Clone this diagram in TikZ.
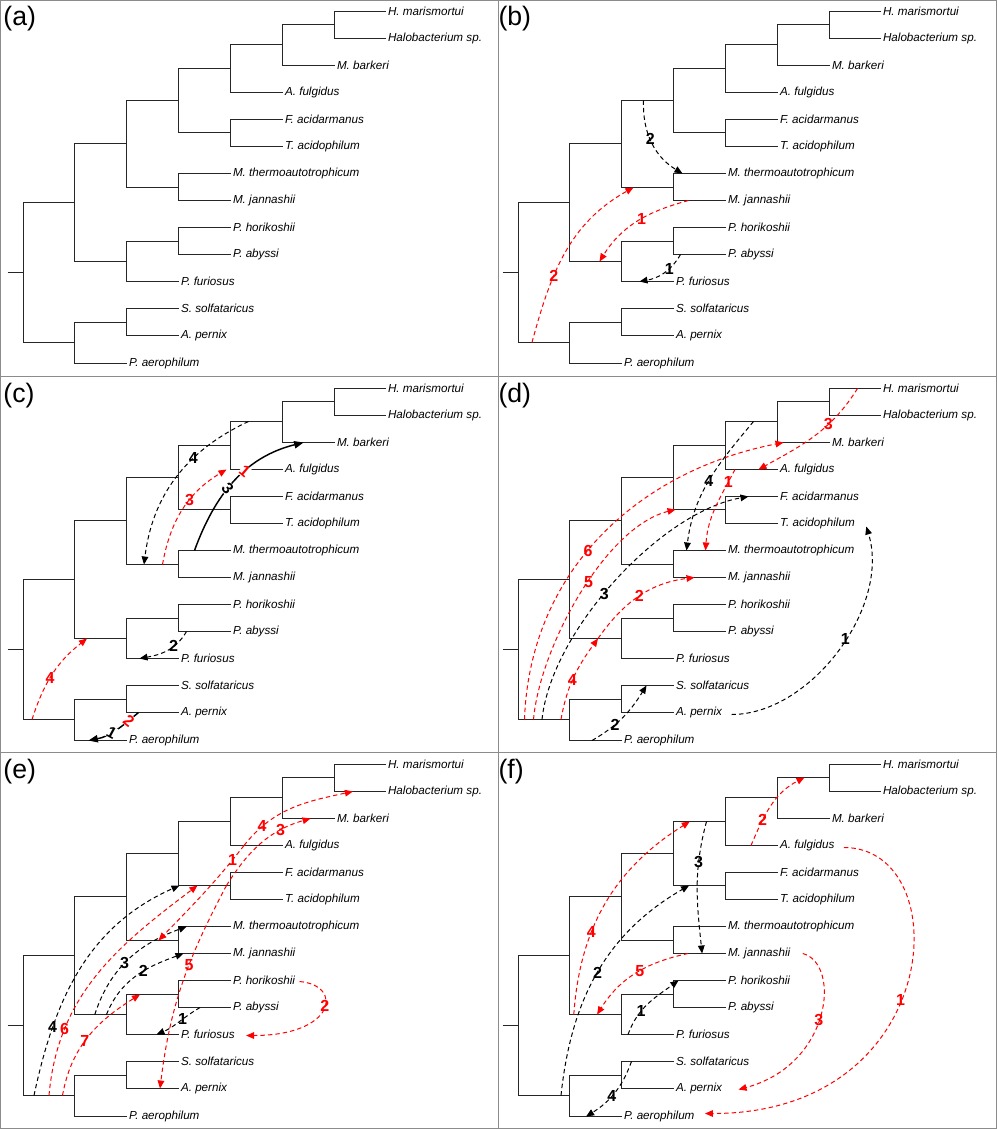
\documentclass[tikz,border=0pt]{standalone}
\usepackage{fontspec}
\setmainfont{Liberation Sans}
\usetikzlibrary{arrows.meta,calc}

\definecolor{hgtred}{RGB}{255,0,0}
\tikzset{every picture/.style={line width=0.75pt}}
\tikzset{
  frame/.style={draw=black!45,line width=0.75pt},
  branch/.style={draw=black!85,line width=0.75pt},
  taxon/.style={anchor=west,inner sep=1.5pt,font=\fontsize{8.75}{10}\selectfont\itshape},
  tag/.style={anchor=base west,inner sep=0pt,font=\fontsize{20}{24}\selectfont},
  hgt/.style={dash pattern=on 3.3pt off 2.3pt,line width=0.75pt,-{Triangle[length=6pt,width=5pt]}},
  redhgt/.style={hgt,draw=hgtred},
  blackhgt/.style={hgt,draw=black},
  shared/.style={draw=black,line width=1.1pt,-{Triangle[length=7pt,width=5.5pt]}},
  num/.style={inner sep=0pt,font=\fontsize{12}{14}\selectfont\bfseries},
  rednum/.style={num,text=hgtred},
  onshared/.style={sloped,fill=white,inner sep=0.3pt},
}

% one cladogram: #1 name prefix, #2/#3 offset of the panel
\newcommand{\cladogram}[3]{%
\begin{scope}[shift={(#2,#3)}]
  \node[tag] (#1-tag) at (3,25) {(#1)};
  \coordinate (#1-s) at (7.5,272.5);
  \coordinate (#1-r) at (23.5,272.5);
  \coordinate (#1-n1) at (74.5,202.5);
  \coordinate (#1-n4) at (74.5,342.5);
  \coordinate (#1-n2) at (126.5,143.5);
  \coordinate (#1-n3) at (126.5,261.5);
  \coordinate (#1-n5) at (126.5,322.5);
  \coordinate (#1-n6) at (178.5,100.5);
  \coordinate (#1-n7) at (178.5,187.5);
  \coordinate (#1-n8) at (178.5,241.5);
  \coordinate (#1-n9) at (230.5,68.5);
  \coordinate (#1-n10) at (230.5,132.5);
  \coordinate (#1-n11) at (282.5,44.5);
  \coordinate (#1-n12) at (334.5,24.5);
  \foreach \i/\xx/\yy/\nm in {0/385.5/11.5/H. marismortui,1/385.5/38.5/Halobacterium sp.,
      2/334.5/65.5/M. barkeri,3/282.5/92.5/A. fulgidus,4/282.5/119.5/F. acidarmanus,
      5/282.5/146.5/T. acidophilum,6/230.5/173.5/M. thermoautotrophicum,
      7/230.5/200.5/M. jannashii,8/230.5/227.5/P. horikoshii,9/230.5/254.5/P. abyssi,
      10/178.5/281.5/P. furiosus,11/178.5/308.5/S. solfataricus,
      12/178.5/335.5/A. pernix,13/126.5/363.5/P. aerophilum}{
    \coordinate (#1-t\i) at (\xx,\yy);
    \node[taxon] (#1-l\i) at (#1-t\i) {\nm};
  }
  \foreach \p/\c in {r/n1,r/n4,n1/n2,n1/n3,n2/n6,n2/n7,n6/n9,n6/n10,n9/n11,n9/t3,
      n11/n12,n11/t2,n12/t0,n12/t1,n10/t4,n10/t5,n7/t6,n7/t7,n3/n8,n3/t10,
      n8/t8,n8/t9,n4/n5,n4/t13,n5/t11,n5/t12}
    \draw[branch] (#1-\p) |- (#1-\c);
  \draw[branch] (#1-s) -- (#1-r);
\end{scope}}

\begin{document}
\begin{tikzpicture}[x=0.75pt,y=0.75pt,yscale=-1,xscale=1]
\useasboundingbox (0,0) rectangle (997,1129);

%Panels
\draw[frame] (0.5,0.5) rectangle (996.5,1128.5);
\draw[frame] (498,0) -- (498,1129);
\draw[frame] (0,376.5) -- (997,376.5);
\draw[frame] (0,752.5) -- (997,752.5);

\cladogram{a}{0}{0}
\cladogram{b}{495}{0}
\cladogram{c}{0}{377}
\cladogram{d}{495}{377}
\cladogram{e}{0}{753}
\cladogram{f}{495}{753}

%Transfers (b)
\draw[blackhgt] ($(b-n6)+(-30,0)$) to[out=92,in=211] node[num,pos=.45] (b-k2) {2} ($(b-t6)+(-43,0)$);
\draw[redhgt] ($(b-t7)+(-37,0)$) to[out=165,in=302] node[rednum,pos=.45] (b-q1) {1} ($(b-n3)+(-22,0)$);
\draw[blackhgt] ($(b-t9)+(-45,0)$) to[out=120,in=350] node[num,pos=.35] (b-k1) {1} ($(b-t10)+(-34,0)$);
\draw[redhgt] ($(b-n4)+(-37.5,0)$) to[out=285,in=151] node[rednum,pos=.35] (b-q2) {2} ($(b-n7)+(-40,0)$);

%Transfers (c)
\draw[blackhgt] ($(c-n11)+(-34,0)$) to[out=155,in=277] node[num,pos=.35] (c-k4) {4} ($(c-n7)+(-34.5,0)$);
\draw[redhgt] ($(c-n7)+(-16,0)$) to[out=280,in=149] node[rednum,pos=.6] (c-q3) {3} ($(c-t3)+(-56,0)$);
\draw[shared] ($(c-t6)+(-36,0)$) to[out=290,in=166] node[num,onshared,pos=.43] (c-k3) {3} node[rednum,onshared,pos=.59] (c-q1) {1} ($(c-t2)+(-31,0)$);
\draw[blackhgt] ($(c-t9)+(-44,0)$) to[out=120,in=350] node[num,pos=.35] (c-k2) {2} ($(c-t10)+(-39,0)$);
\draw[redhgt] ($(c-n4)+(-42.5,0)$) to[out=288,in=142] node[rednum,pos=.45] (c-q4) {4} ($(c-n3)+(-39.5,0)$);
\draw[shared] ($(c-t12)+(-40,0)$) to[out=140,in=349] node[rednum,onshared,pos=.2] (c-q2) {2} node[num,onshared,pos=.58] (c-k1) {1} ($(c-t13)+(-38,0)$);

%Transfers (d)
\draw[redhgt] ($(d-n4)+(-45,0)$) to[out=272,in=169] node[rednum,pos=.45] (d-q6) {6} ($(d-t2)+(-46,0)$);
\draw[redhgt] ($(d-n4)+(-36,0)$) to[out=275,in=166,looseness=.73] node[rednum,pos=.55] (d-q5) {5} ($(d-n10)+(-50,0)$);
\draw[blackhgt] ($(d-n4)+(-27.5,0)$) to[out=276,in=170,looseness=.75] node[num,pos=.45] (d-k3) {3} ($(d-t4)+(-29,0)$);
\draw[redhgt] ($(d-n4)+(-8.5,0)$) to[out=280,in=126] node[rednum,pos=.45] (d-q4) {4} ($(d-n3)+(-23.5,0)$);
\draw[redhgt] ($(d-n3)+(-23.5,0)$) to[out=305,in=173] node[rednum,pos=.5] (d-q2) {2} ($(d-t7)+(-31,0)$);
\draw[blackhgt] ($(d-n11)+(-24,0)$) to[out=130,in=277] node[num,pos=.5] (d-k4) {4} ($(d-t6)+(-39,0)$);
\draw[redhgt] ($(d-t3)+(-42.5,0)$) to[out=118,in=274] node[rednum,pos=.15] (d-q1) {1} ($(d-t6)+(-20,0)$);
\draw[redhgt] ($(d-t0)+(-23,0)$) to[out=122,in=331] node[rednum,pos=.35] (d-q3) {3} ($(d-t3)+(-19,0)$);
\draw[blackhgt] ($(d-l12.east)+(7,2)$) to[out=0,in=73,out looseness=.87,in looseness=.93] node[num,pos=.55] (d-k1) {1} ($(d-l5.east)+(9,3)$);
\draw[blackhgt] ($(d-t13)+(-29.5,0)$) to[out=330,in=122] node[num,pos=.35] (d-k2) {2} ($(d-t11)+(-27,0)$);

%Transfers (e)
\draw[blackhgt] ($(e-n4)+(-40.5,0)$) to[out=282,in=156] node[num,pos=.25] (e-k4) {4} ($(e-n10)+(-51,0)$);
\draw[redhgt] ($(e-n4)+(-25.5,0)$) to[out=275,in=143] node[rednum,pos=.25] (e-q6) {6} ($(e-n10)+(-33,0)$);
\draw[redhgt] ($(e-n4)+(-12,0)$) to[out=280,in=148] node[rednum,pos=.45] (e-q7) {7} ($(e-n8)+(-38.5,0)$);
\draw[blackhgt] ($(e-n3)+(-31.7,0)$) to[out=288,in=160] node[num,pos=.45] (e-k3) {3} ($(e-t6)+(-43.7,0)$);
\draw[blackhgt] ($(e-n3)+(-20,0)$) to[out=292,in=160] node[num,pos=.58] (e-k2) {2} ($(e-t7)+(-47,0)$);
\draw[blackhgt] ($(e-t9)+(-30.4,0)$) to[out=150,in=337] node[num,pos=.4] (e-k1) {1} ($(e-t10)+(-22,0)$);
\draw[redhgt] ($(e-l8.east)+(2,1)$) to[out=5,in=0,out looseness=1.5,in looseness=3] node[rednum,pos=.45] (e-q2) {2} ($(e-l10.east)+(9,1)$);
\draw[redhgt] ($(e-n10)+(-4,0)$) to[out=118,in=277] node[rednum,pos=.4] (e-q5) {5} ($(e-t12)+(-18.5,0)$);
\draw[redhgt] ($(e-n10)+(-4,0)$) to[out=302,in=164] node[rednum,pos=.72] (e-q3) {3} ($(e-t2)+(-24,0)$);
\draw[redhgt] ($(e-t3)+(-38.5,0)$) to[out=128,in=314] node[rednum,pos=.13] (e-q1) {1} ($(e-n7)+(-20,0)$);
\draw[redhgt] ($(e-t3)+(-38.5,0)$) to[out=308,in=168] node[rednum,pos=.2] (e-q4) {4} ($(e-t1)+(-32.6,0)$);

%Transfers (f)
\draw[redhgt] ($(f-n3)+(-47.7,0)$) to[out=274,in=148] node[rednum,pos=.35] (f-q4) {4} ($(f-n9)+(-35.7,0)$);
\draw[blackhgt] ($(f-n4)+(-8.5,0)$) to[out=276,in=150] node[num,pos=.5] (f-k2) {2} ($(f-n10)+(-36.4,0)$);
\draw[blackhgt] ($(f-n9)+(-19,0)$) to[out=105,in=264] node[num,pos=.3] (f-k3) {3} ($(f-t7)+(-23.4,0)$);
\draw[redhgt] ($(f-t7)+(-37.4,0)$) to[out=168,in=302] node[rednum,pos=.45] (f-q5) {5} ($(f-n3)+(-24.4,0)$);
\draw[blackhgt] ($(f-t10)+(-45.5,0)$) to[out=290,in=144] node[num,pos=.35] (f-k1) {1} ($(f-t8)+(-47,0)$);
\draw[blackhgt] ($(f-t11)+(-42,0)$) to[out=110,in=328] node[num,pos=.55] (f-k4) {4} ($(f-t13)+(-35.4,0)$);
\draw[redhgt] ($(f-t3)+(-26.5,0)$) to[out=293,in=153] node[rednum,pos=.3] (f-q2) {2} ($(f-n12)+(-25,0)$);
\draw[redhgt] ($(f-l3.east)+(7,2)$) to[out=0,in=0,out looseness=.97,in looseness=2.05] node[rednum,pos=.55] (f-q1) {1} ($(f-l13.east)+(8,-3)$);
\draw[redhgt] ($(f-l7.east)+(10,0)$) to[out=15,in=345,out looseness=.68,in looseness=1.64] node[rednum,pos=.52] (f-q3) {3} ($(f-l12.east)+(14,1)$);

\end{tikzpicture}
\end{document}
